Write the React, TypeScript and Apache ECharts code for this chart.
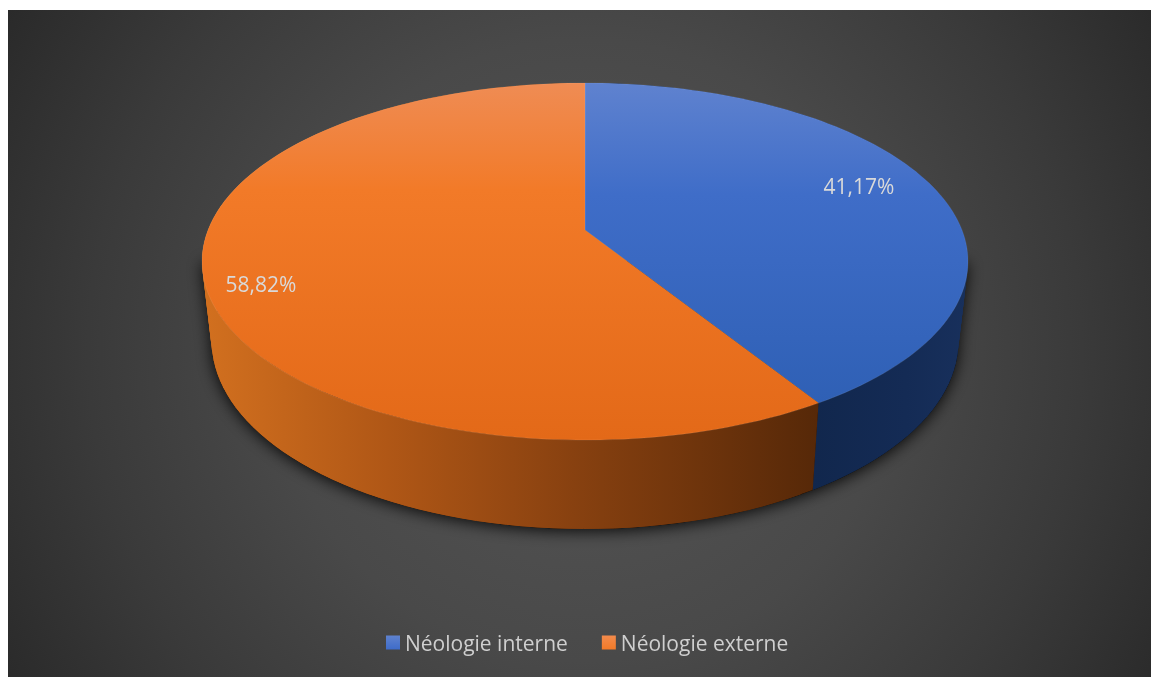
import React, { useEffect, useRef } from "react";
import * as echarts from "echarts";

const categories = ["Néologie interne", "Néologie externe"];
const shares = [41.17, 58.82];
const percentLabels = ["41,17%", "58,82%"];

// Label anchors inside the chart area, one per slice.
const labelAnchors = [
  [851, 176],
  [253, 274],
];

// Perspective of the disc: vertex of the slices, focal terms for both rims.
const VERTEX_X = 577;
const TOP_Y = 220;
const TOP_A = 173;
const BOTTOM_Y = 298;
const BOTTOM_A = 182;
const RADIUS_X = 377;
const BOTTOM_SCALE = 0.975;
const PERSPECTIVE = 0.1765;
const STEP = 1.5;
const WALL_STEP = 2;

type Pt = [number, number];

function rim(deg: number, bottom: boolean): Pt {
  const a = (deg * Math.PI) / 180;
  const X = Math.sin(a);
  const Y = -Math.cos(a);
  const w = 1 - PERSPECTIVE * Y;
  const s = bottom ? BOTTOM_SCALE : 1;
  return [
    VERTEX_X + (RADIUS_X * s * X) / w,
    (bottom ? BOTTOM_Y : TOP_Y) + ((bottom ? BOTTOM_A : TOP_A) * Y) / w,
  ];
}

function arc(from: number, to: number, bottom: boolean): Pt[] {
  const pts: Pt[] = [];
  const n = Math.max(2, Math.ceil(Math.abs(to - from) / STEP));
  for (let i = 0; i <= n; i++) pts.push(rim(from + ((to - from) * i) / n, bottom));
  return pts;
}

const toStops = (stops: [number, string][]) =>
  stops.map(([offset, color]) => ({ offset, color }));
const vgrad = (stops: [number, string][]) =>
  new echarts.graphic.LinearGradient(0, 0, 0, 1, toStops(stops));

const faceFills = [
  () =>
    vgrad([
      [0, "#5F82CF"],
      [0.35, "#3F6DC8"],
      [1, "#2F60B5"],
    ]),
  () =>
    vgrad([
      [0, "#EF8C54"],
      [0.3, "#F27A28"],
      [1, "#E36918"],
    ]),
];
// The side walls shade from left to right across the chart area.
const wallFills = [
  () =>
    new echarts.graphic.LinearGradient(
      805,
      0,
      960,
      0,
      toStops([
        [0, "#11274D"],
        [0.6, "#142B55"],
        [1, "#18305C"],
      ]),
      true
    ),
  () =>
    new echarts.graphic.LinearGradient(
      194,
      0,
      811,
      0,
      toStops([
        [0, "#D2701F"],
        [0.3, "#B05716"],
        [0.6, "#884110"],
        [1, "#562808"],
      ]),
      true
    ),
];
const legendFills = [
  () =>
    vgrad([
      [0, "#5F82CF"],
      [1, "#3E6CC9"],
    ]),
  () =>
    vgrad([
      [0, "#F38B4C"],
      [1, "#F27A28"],
    ]),
];

const total = shares.reduce((s, v) => s + v, 0);
const FONT = "'Open Sans', sans-serif";

function slice(index: number) {
  const before = shares.slice(0, index).reduce((s, v) => s + v, 0);
  return {
    type: "custom",
    name: categories[index],
    coordinateSystem: "none",
    silent: true,
    itemStyle: { color: legendFills[index]() },
    data: [[shares[index]]],
    renderItem: (_params: unknown, api: any) => {
      const start = (before / total) * 360;
      const end = start + (api.value(0) / total) * 360;
      const children: any[] = [];
      if (index === 0) {
        // Soft drop shadow under the whole cylinder.
        children.push({
          type: "polygon",
          shape: {
            points: [rim(100, false), ...arc(100, 260, true), rim(260, false)],
          },
          style: {
            fill: "#000",
            shadowBlur: 16,
            shadowColor: "rgba(0,0,0,0.9)",
            shadowOffsetY: 2,
          },
        });
      }
      // Overlapping quads along the rim, so the silhouette follows the tangents
      // of both rims and no seam shows between neighbours.
      const wall = wallFills[index]();
      const n = Math.ceil((end - start) / WALL_STEP);
      const d = (end - start) / n;
      for (let i = 0; i < n; i++) {
        const a = start + d * i;
        const b = Math.min(end, a + d * 2);
        children.push({
          type: "polygon",
          shape: {
            points: [rim(a, false), rim(b, false), rim(b, true), rim(a, true)],
          },
          style: { fill: wall },
        });
      }
      children.push({
        type: "polygon",
        shape: { points: [[VERTEX_X, TOP_Y], ...arc(start, end, false)] },
        style: {
          fill: faceFills[index](),
          stroke: "rgba(255,255,255,0.08)",
          lineWidth: 1,
        },
      });
      children.push({
        type: "text",
        x: labelAnchors[index][0],
        y: labelAnchors[index][1],
        style: {
          text: percentLabels[index],
          fill: "#D9D9D9",
          font: `21px ${FONT}`,
          align: "center",
          verticalAlign: "middle",
        },
      });
      return { type: "group", children };
    },
  };
}

export default function App() {
  const ref = useRef<HTMLDivElement>(null);

  useEffect(() => {
    if (!ref.current) return;
    const chart = echarts.init(ref.current, undefined, { renderer: "svg" });
    const bg = new echarts.graphic.RadialGradient(
      577,
      340,
      690,
      [
        { offset: 0, color: "#565656" },
        { offset: 0.45, color: "#494949" },
        { offset: 0.72, color: "#3A3A3A" },
        { offset: 1, color: "#282828" },
      ],
      true
    );
    chart.setOption({
      animation: false,
      graphic: [
        {
          type: "rect",
          z: -1,
          silent: true,
          shape: { x: 0, y: 0, width: 1143, height: 667 },
          style: { fill: bg },
        },
      ],
      legend: {
        data: categories.map((name) => ({ name, icon: "rect" })),
        left: 378,
        top: 622,
        padding: 0,
        itemWidth: 14,
        itemHeight: 14,
        itemGap: 34,
        selectedMode: false,
        textStyle: { color: "#CFCFCF", fontSize: 21, fontFamily: FONT },
      },
      series: categories.map((_, i) => slice(i)),
    });
    return () => chart.dispose();
  }, []);

  return (
    <div
      ref={ref}
      style={{ position: "fixed", left: 8, top: 10, width: 1143, height: 667 }}
    />
  );
}
